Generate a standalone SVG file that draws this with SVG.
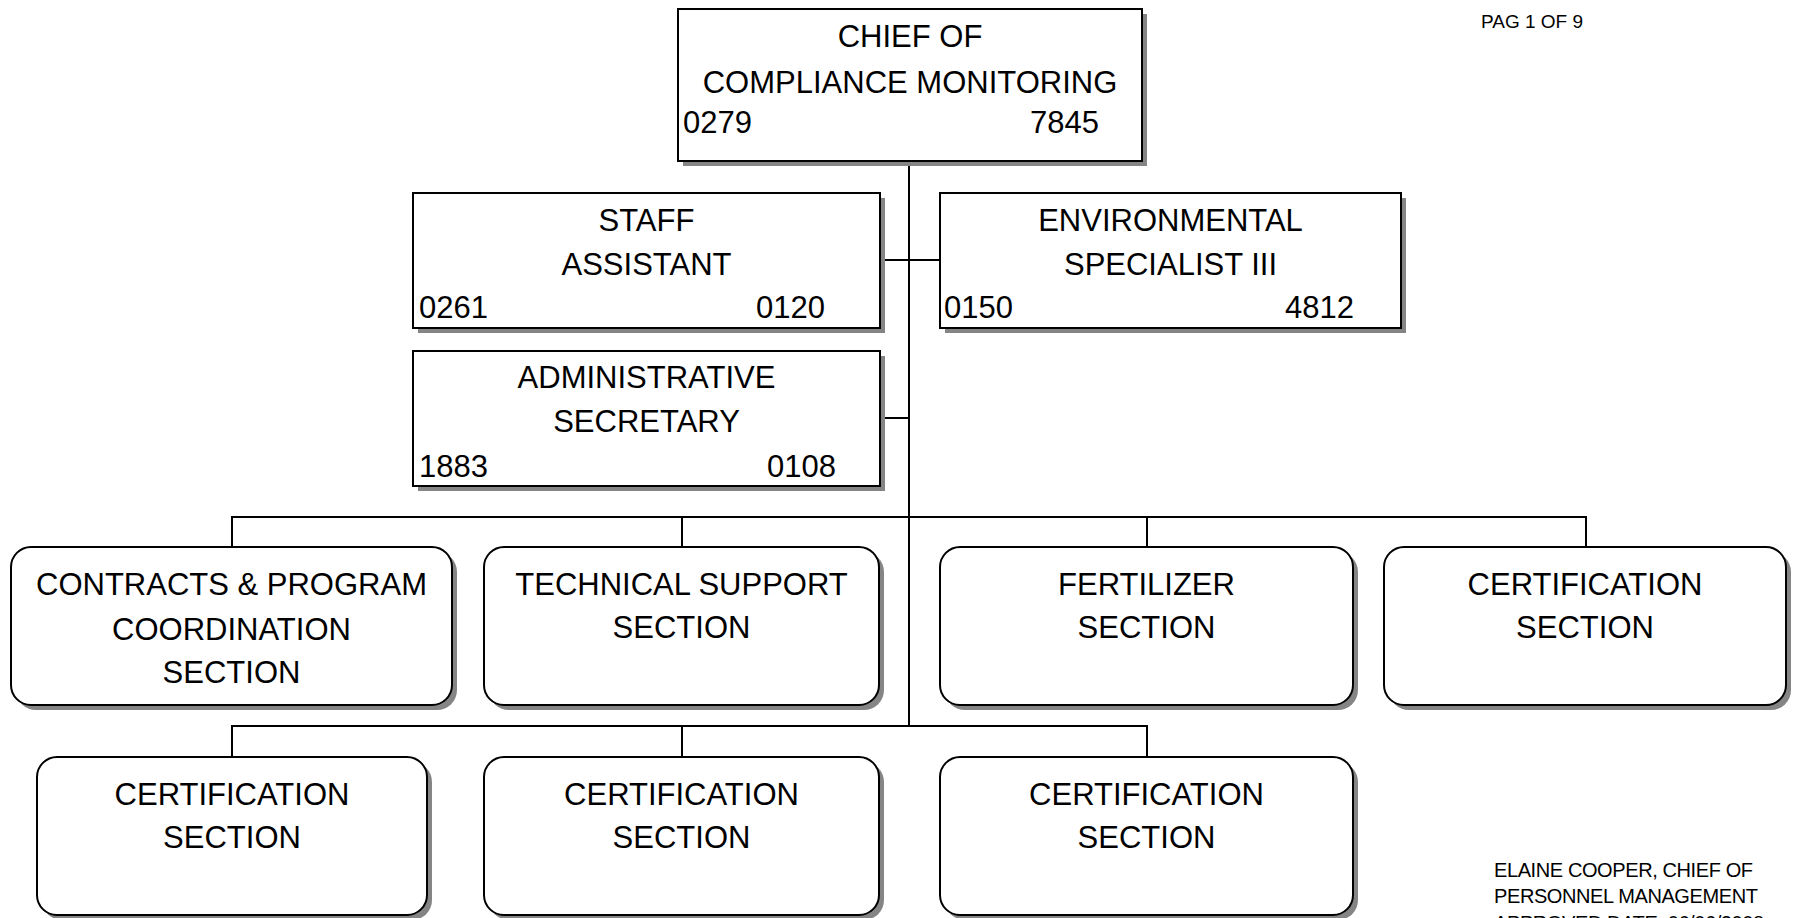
<svg xmlns="http://www.w3.org/2000/svg" width="1793" height="918" viewBox="0 0 1793 918">
  <style>
    .bg { fill: #ffffff; }
    .shadow { fill: #858585; }
    .box { fill: #ffffff; stroke: #000000; stroke-width: 2; }
    .wire { fill: none; stroke: #000000; stroke-width: 2; }
    text { font-family: "Liberation Sans", Arial, sans-serif; fill: #000000; }
    .t { font-size: 31px; text-anchor: middle; }
    .n { font-size: 31px; }
    .ne { font-size: 31px; text-anchor: end; }
    .note { font-size: 19px; }
    .sig { font-size: 20px; letter-spacing: -0.4px; }
  </style>

  <rect class="bg" x="0" y="0" width="1793" height="918"/>

  <!-- connectors -->
  <g id="connectors">
    <line class="wire" x1="909" y1="161" x2="909" y2="726"/>
    <line class="wire" x1="880" y1="260" x2="940" y2="260"/>
    <line class="wire" x1="880" y1="418" x2="909" y2="418"/>
    <!-- upper section bus -->
    <polyline class="wire" points="232,547 232,517 1586,517 1586,547"/>
    <line class="wire" x1="682" y1="517" x2="682" y2="547"/>
    <line class="wire" x1="1147" y1="517" x2="1147" y2="547"/>
    <!-- lower section bus -->
    <polyline class="wire" points="232,757 232,726 1147,726 1147,757"/>
    <line class="wire" x1="682" y1="726" x2="682" y2="757"/>
  </g>

  <!-- positions -->
  <g id="chief">
    <rect class="shadow" x="683" y="14" width="464" height="152"/>
    <rect class="box" x="678" y="9" width="464" height="152"/>
    <text class="t" x="910" y="47">CHIEF OF</text>
    <text class="t" x="910" y="93">COMPLIANCE MONITORING</text>
    <text class="n" x="683" y="133">0279</text>
    <text class="ne" x="1099" y="133">7845</text>
  </g>

  <g id="staff-assistant">
    <rect class="shadow" x="418" y="198" width="467" height="135"/>
    <rect class="box" x="413" y="193" width="467" height="135"/>
    <text class="t" x="646.5" y="231">STAFF</text>
    <text class="t" x="646.5" y="275">ASSISTANT</text>
    <text class="n" x="419" y="318">0261</text>
    <text class="ne" x="825" y="318">0120</text>
  </g>

  <g id="environmental-specialist">
    <rect class="shadow" x="945" y="198" width="461" height="135"/>
    <rect class="box" x="940" y="193" width="461" height="135"/>
    <text class="t" x="1170.5" y="231">ENVIRONMENTAL</text>
    <text class="t" x="1170.5" y="275">SPECIALIST III</text>
    <text class="n" x="944" y="318">0150</text>
    <text class="ne" x="1354" y="318">4812</text>
  </g>

  <g id="administrative-secretary">
    <rect class="shadow" x="418" y="356" width="467" height="135"/>
    <rect class="box" x="413" y="351" width="467" height="135"/>
    <text class="t" x="646.5" y="388">ADMINISTRATIVE</text>
    <text class="t" x="646.5" y="432">SECRETARY</text>
    <text class="n" x="419" y="477">1883</text>
    <text class="ne" x="836" y="477">0108</text>
  </g>

  <!-- sections, upper row -->
  <g id="contracts-section">
    <rect class="shadow" x="16" y="552" width="441" height="158" rx="20"/>
    <rect class="box" x="11" y="547" width="441" height="158" rx="20"/>
    <text class="t" x="231.5" y="595">CONTRACTS &amp; PROGRAM</text>
    <text class="t" x="231.5" y="640">COORDINATION</text>
    <text class="t" x="231.5" y="683">SECTION</text>
  </g>

  <g id="technical-support-section">
    <rect class="shadow" x="489" y="552" width="395" height="158" rx="20"/>
    <rect class="box" x="484" y="547" width="395" height="158" rx="20"/>
    <text class="t" x="681.5" y="595">TECHNICAL SUPPORT</text>
    <text class="t" x="681.5" y="638">SECTION</text>
  </g>

  <g id="fertilizer-section">
    <rect class="shadow" x="945" y="552" width="413" height="158" rx="20"/>
    <rect class="box" x="940" y="547" width="413" height="158" rx="20"/>
    <text class="t" x="1146.5" y="595">FERTILIZER</text>
    <text class="t" x="1146.5" y="638">SECTION</text>
  </g>

  <g id="certification-section-1">
    <rect class="shadow" x="1389" y="552" width="402" height="158" rx="20"/>
    <rect class="box" x="1384" y="547" width="402" height="158" rx="20"/>
    <text class="t" x="1585" y="595">CERTIFICATION</text>
    <text class="t" x="1585" y="638">SECTION</text>
  </g>

  <!-- sections, lower row -->
  <g id="certification-section-2">
    <rect class="shadow" x="42" y="762" width="390" height="158" rx="20"/>
    <rect class="box" x="37" y="757" width="390" height="158" rx="20"/>
    <text class="t" x="232" y="805">CERTIFICATION</text>
    <text class="t" x="232" y="848">SECTION</text>
  </g>

  <g id="certification-section-3">
    <rect class="shadow" x="489" y="762" width="395" height="158" rx="20"/>
    <rect class="box" x="484" y="757" width="395" height="158" rx="20"/>
    <text class="t" x="681.5" y="805">CERTIFICATION</text>
    <text class="t" x="681.5" y="848">SECTION</text>
  </g>

  <g id="certification-section-4">
    <rect class="shadow" x="945" y="762" width="413" height="158" rx="20"/>
    <rect class="box" x="940" y="757" width="413" height="158" rx="20"/>
    <text class="t" x="1146.5" y="805">CERTIFICATION</text>
    <text class="t" x="1146.5" y="848">SECTION</text>
  </g>

  <!-- page reference and approval block -->
  <g id="page-ref">
    <text class="note" x="1481" y="28">PAG 1 OF 9</text>
  </g>
  <g id="approval">
    <text class="sig" x="1494" y="877">ELAINE COOPER, CHIEF OF</text>
    <text class="sig" x="1494" y="903">PERSONNEL MANAGEMENT</text>
    <text class="sig" x="1494" y="930">APPROVED DATE:  06/06/2008</text>
  </g>
</svg>
